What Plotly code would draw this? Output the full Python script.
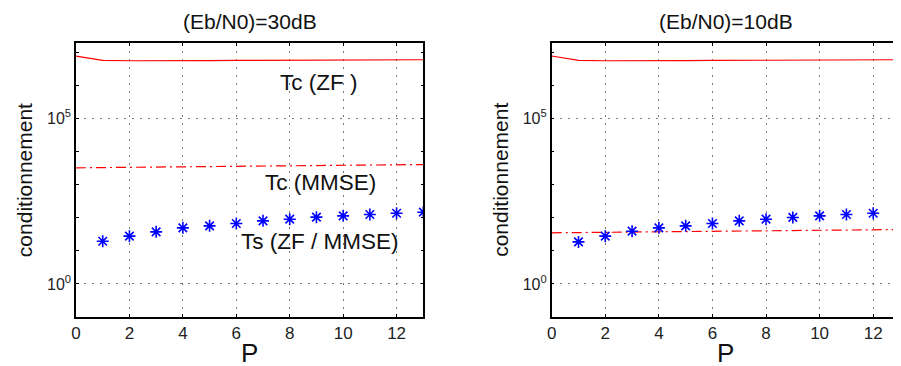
import plotly.graph_objects as go
from plotly.subplots import make_subplots

# ---- data ----
P_line = [0, 1, 2, 3, 4, 5, 6, 7, 8, 9, 10, 11, 12, 13]
P_pts = [1, 2, 3, 4, 5, 6, 7, 8, 9, 10, 11, 12, 13]

tc_zf_30 = [7.7e6, 5.7e6, 5.55e6, 5.5e6, 5.55e6, 5.6e6, 5.65e6, 5.7e6, 5.75e6, 5.8e6, 5.85e6, 5.9e6, 5.92e6, 5.95e6]
tc_mmse_30 = [3220, 3280, 3340, 3400, 3450, 3500, 3560, 3620, 3680, 3750, 3820, 3900, 3980, 4050]
ts_30 = [19.5, 27.7, 37.4, 49.4, 56.8, 66.8, 80.5, 90.4, 104, 114, 125, 137, 147]

tc_zf_10 = [7.7e6, 5.7e6, 5.55e6, 5.5e6, 5.55e6, 5.6e6, 5.65e6, 5.7e6, 5.75e6, 5.8e6, 5.85e6, 5.9e6, 5.92e6, 5.95e6]
tc_mmse_10 = [35, 35.6, 36.3, 37, 37.6, 38.2, 38.9, 39.6, 40.3, 41, 41.7, 42.5, 43.3, 44]
ts_10 = [18.6, 27.7, 39.2, 49.4, 56.8, 66.8, 80.5, 90.4, 102, 114, 125, 137, 147]

titles = ["(Eb/N0)=30dB", "(Eb/N0)=10dB"]
x_ticks = [0, 2, 4, 6, 8, 10, 12]
y_major = [1, 1e5]
y_major_text = ["10<sup>0</sup>", "10<sup>5</sup>"]
y_minor = [1e-1, 1e1, 1e2, 1e3, 1e4, 1e6, 1e7]

FONT = "Liberation Sans, Arial, sans-serif"
OFF = 8  # default page body margin
W, H = 901 - OFF, 366 - OFF
top_px, bot_px = 43 - OFF, 316.7 - OFF
doms = [(76 - OFF, 423.3 - OFF), (551.7 - OFF, 900 - OFF)]

fig = make_subplots(rows=1, cols=2)

series = [(tc_zf_30, tc_mmse_30, ts_30), (tc_zf_10, tc_mmse_10, ts_10)]
for i, (zf, mm, ts) in enumerate(series, start=1):
    fig.add_trace(go.Scatter(x=P_line, y=zf, mode="lines",
                             line=dict(color="#ff0000", width=1.2), showlegend=False), row=1, col=i)
    fig.add_trace(go.Scatter(x=P_line, y=mm, mode="lines",
                             line=dict(color="#ff0000", width=1.2, dash="10px,4px,2px,4px"),
                             showlegend=False), row=1, col=i)
    fig.add_trace(go.Scatter(x=P_pts, y=ts, mode="markers",
                             marker=dict(symbol="asterisk-open", size=10, color="#0000ff",
                                         line=dict(color="#0000ff", width=1.6)),
                             showlegend=False), row=1, col=i)

for i in (1, 2):
    d0, d1 = doms[i - 1]
    fig.update_xaxes(row=1, col=i, domain=[d0 / W, d1 / W], range=[0, 13], automargin=False,
                     tickvals=x_ticks, ticks="inside", ticklen=3, tickcolor="black",
                     showline=True, linecolor="black", linewidth=1.5, mirror="ticks",
                     showgrid=True, gridcolor="#777", griddash="2px,6px", gridwidth=1,
                     zeroline=False, tickfont=dict(family=FONT, size=17, color="#222"))
    fig.update_yaxes(row=1, col=i, type="log", range=[-1, 7.28], automargin=False,
                     tickvals=y_major, ticktext=y_major_text, ticks="inside", ticklen=3,
                     tickcolor="black",
                     minor=dict(tickvals=y_minor, ticks="inside", ticklen=3,
                                tickcolor="black", showgrid=False),
                     showline=True, linecolor="black", linewidth=1.5, mirror="ticks",
                     showgrid=True, gridcolor="#777", griddash="2px,6px", gridwidth=1,
                     zeroline=False, tickfont=dict(family=FONT, size=16, color="#222"))

ann = []
ph = bot_px - top_px
def py(p):
    return (bot_px - (p - OFF)) / ph
def px(p):
    return (p - OFF) / W

for i in range(2):
    d0, d1 = doms[i]
    cx = (d0 + d1) / 2 + OFF
    ann.append(dict(text=titles[i], xref="paper", yref="paper", x=px(cx), y=py(22),
                    xanchor="center", yanchor="middle", showarrow=False,
                    font=dict(family=FONT, size=21, color="#111")))
    ann.append(dict(text="P", xref="paper", yref="paper", x=px(cx), y=py(353),
                    xanchor="center", yanchor="middle", showarrow=False,
                    font=dict(family=FONT, size=26, color="#111")))
    ann.append(dict(text="conditionnement", xref="paper", yref="paper", x=px(d0 + OFF - 52),
                    y=py(180), xanchor="center", yanchor="middle", textangle=-90,
                    showarrow=False, font=dict(family=FONT, size=21, color="#111")))

labels = [("Tc (ZF )", 318, 82), ("Tc (MMSE)", 320, 182), ("Ts (ZF / MMSE)", 319, 241)]
for t, x, y in labels:
    ann.append(dict(text=t, xref="paper", yref="paper", x=px(x), y=py(y),
                    xanchor="center", yanchor="middle", showarrow=False,
                    font=dict(family=FONT, size=22.5, color="#111")))

fig.update_layout(width=W, height=H, margin=dict(l=0, r=0, t=top_px, b=H - bot_px),
                  plot_bgcolor="white", paper_bgcolor="white", annotations=ann,
                  font=dict(family=FONT))
fig.write_html("out.html")
